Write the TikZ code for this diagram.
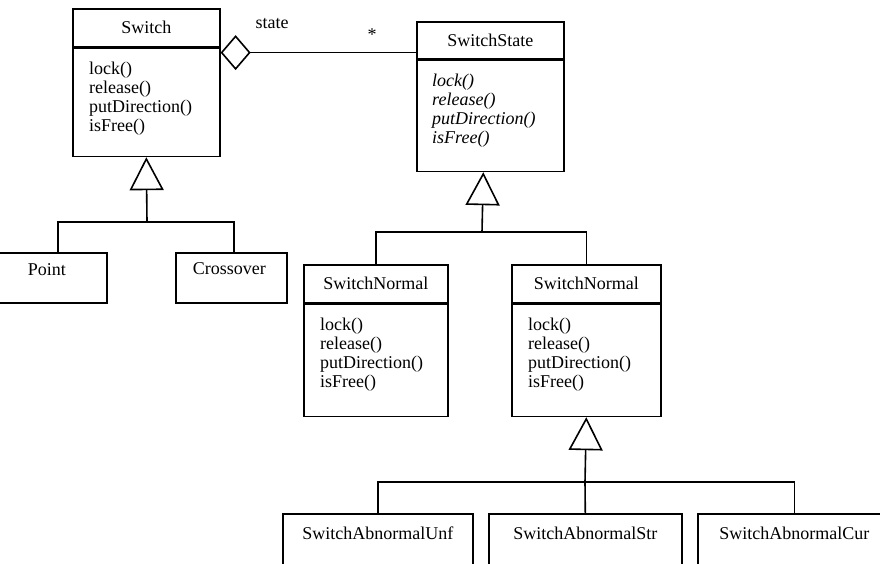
\documentclass[tikz,border=0pt]{standalone}
\usepackage{fontspec}
\setmainfont{Liberation Serif}
\usetikzlibrary{arrows.meta}

\begin{document}
\begin{tikzpicture}[x=1pt,y=-1pt]
  \tikzstyle{box}=[draw, line width=1.6pt, inner sep=0pt, anchor=north west]
  \tikzstyle{head}=[box, minimum height=38pt, font=\fontsize{18}{19}\selectfont]
  \tikzstyle{body}=[box, anchor=north]
  \tikzstyle{oplist}=[anchor=north west, inner sep=0pt, align=left, font=\fontsize{18}{18.9}\selectfont]
  \tikzstyle{cname}=[inner sep=0pt, font=\fontsize{18}{19}\selectfont]
  \tikzstyle{line}=[line width=1.6pt]
  \tikzstyle{gen}=[line, -{Triangle[open, length=33pt, width=34pt]}]
  \tikzstyle{agg}=[line, {Diamond[open, length=30pt, width=35pt]}-]

  \path[use as bounding box] (0,0) rectangle (880,563);
  \clip (0,0) rectangle (880,563);

  % classe Switch
  \node[head, minimum width=147pt] (swhead) at (72,8) {Switch};
  \node[body, minimum width=147pt, minimum height=108pt] (swops) at (swhead.south) {};
  \node[oplist] (swlist) at ([xshift=17pt, yshift=-14.5pt]swops.north west) {lock()\\release()\\putDirection()\\isFree()};

  % classe SwitchState (abstrata)
  \node[head, minimum width=147pt, minimum height=37pt] (sshead) at (416,21) {SwitchState};
  \node[body, minimum width=147pt, minimum height=111pt] (ssops) at (sshead.south) {};
  \node[oplist, font=\fontsize{18}{18.9}\selectfont\itshape] (sslist) at ([xshift=16pt, yshift=-14.5pt]ssops.north west) {lock()\\release()\\putDirection()\\isFree()};

  % agregacao
  \draw[agg] ([yshift=-5pt]swops.north east) -- ([yshift=-5pt]swops.north east -| sshead.west);
  \node[cname] (role) at (272,24) {state};
  \node[cname] (mult) at (372,35) {*};

  % Point e Crossover
  \node[box, minimum width=120pt, minimum height=50pt] (pt) at (-14,252) {};
  \node[cname] (ptname) at ([yshift=-18pt]pt.north) {Point};
  \node[box, minimum width=111pt, minimum height=50pt] (cross) at (175,252) {};
  \node[cname] (crossname) at ([yshift=-17pt, xshift=-2pt]cross.north) {Crossover};
  \coordinate (swjoin) at (147,222);
  \draw[line] ([xshift=11pt]pt.north) -- ++(0,-30) -| ([xshift=2.5pt]cross.north);
  \draw[gen] (swjoin) -- (swops.south);

  % SwitchNormal (dois)
  \node[head, minimum width=144pt] (snahead) at (303,264) {SwitchNormal};
  \node[body, minimum width=144pt, minimum height=112pt] (snaops) at (snahead.south) {};
  \node[oplist] (snalist) at ([xshift=17pt, yshift=-14.5pt]snaops.north west) {lock()\\release()\\putDirection()\\isFree()};
  \node[head, minimum width=149pt] (snbhead) at (511,264) {SwitchNormal};
  \node[body, minimum width=149pt, minimum height=112pt] (snbops) at (snbhead.south) {};
  \node[oplist] (snblist) at ([xshift=17pt, yshift=-14.5pt]snbops.north west) {lock()\\release()\\putDirection()\\isFree()};
  \coordinate (ssjoin) at (482,232);
  \draw[line] (snahead.north) -- ++(0,-32) -| (snbhead.north);
  \draw[gen] (ssjoin) -- ([xshift=-7pt]ssops.south);

  % SwitchAbnormal...
  \node[box, minimum width=190pt, minimum height=70pt] (unf) at (282,513) {};
  \node[cname] (unfname) at ([yshift=-20pt]unf.north) {SwitchAbnormalUnf};
  \node[box, minimum width=193pt, minimum height=70pt] (str) at (488,513) {};
  \node[cname] (strname) at ([yshift=-20pt]str.north) {SwitchAbnormalStr};
  \node[box, minimum width=193pt, minimum height=70pt] (cur) at (697,513) {};
  \node[cname] (curname) at ([yshift=-20pt]cur.north) {SwitchAbnormalCur};
  \coordinate (snjoin) at (585,482);
  \draw[line] (unf.north) -- ++(0,-31) -| (cur.north);
  \draw[line] (snjoin) -- (str.north);
  \draw[gen] (snjoin) -- (snbops.south);
\end{tikzpicture}
\end{document}
